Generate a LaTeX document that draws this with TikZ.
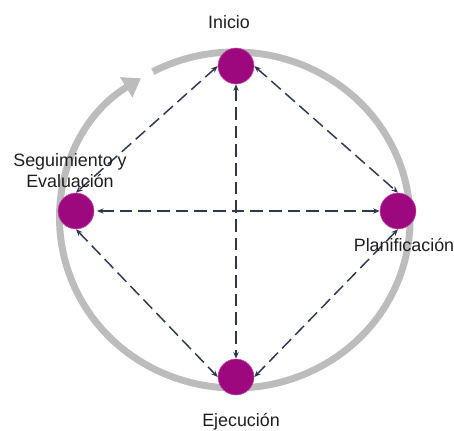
\documentclass[tikz,border=0pt]{standalone}
\usepackage{fontspec}
\setmainfont{Liberation Sans}
\usetikzlibrary{arrows.meta}
\definecolor{dotc}{RGB}{158,8,126}
\definecolor{bandc}{RGB}{188,188,188}
\definecolor{linkc}{RGB}{45,55,80}
\definecolor{txtc}{RGB}{30,30,30}
\tikzset{
  stage/.style={circle,fill=dotc,draw=dotc!70!white,line width=0.4pt,minimum size=27pt,inner sep=0pt},
  band/.style={draw=bandc,line width=5.2pt,-{Triangle[length=13pt,width=17pt]}},
  link/.style={draw=linkc,line width=1.1pt,dash pattern=on 9.5pt off 4.5pt,{Stealth[length=5pt,width=4pt]}-{Stealth[length=5pt,width=4pt]}},
  lbl/.style={font=\fontsize{13.4}{15.75}\selectfont,text=txtc,inner sep=0pt}
}
\begin{document}
\begin{tikzpicture}[x=0.75pt,y=0.75pt]
\useasboundingbox (0,0) rectangle (454,430);
\coordinate (c) at (235,210);
\draw[band] ([shift={(118:131.25pt and 126pt)}]c) arc[start angle=118,end angle=-237.5,x radius=131.25pt,y radius=126pt];
\node[stage] (ini) at (236,364) {};
\node[stage] (seg) at (76,219) {};
\node[stage] (pla) at (398,219) {};
\node[stage] (eje) at (236,53) {};
\draw[link] (ini.west) -- (seg.north);
\draw[link] (ini.east) -- (pla.north);
\draw[link] (seg.south) -- (eje.west);
\draw[link] (pla.south) -- (eje.east);
\draw[link] (ini.south) -- (eje.north);
\draw[link,shorten <=2pt] (seg.east) -- (pla.west);
\node[lbl,anchor=base] (tini) at (229,401.5) {Inicio};
\node[lbl,anchor=north,align=center] (tseg) at (70,276.5) {Seguimiento y\\Evaluación};
\node[lbl,anchor=base] (tpla) at (404,179) {Planificación};
\node[lbl,anchor=base] (teje) at (241,4) {Ejecución};
\end{tikzpicture}
\end{document}
